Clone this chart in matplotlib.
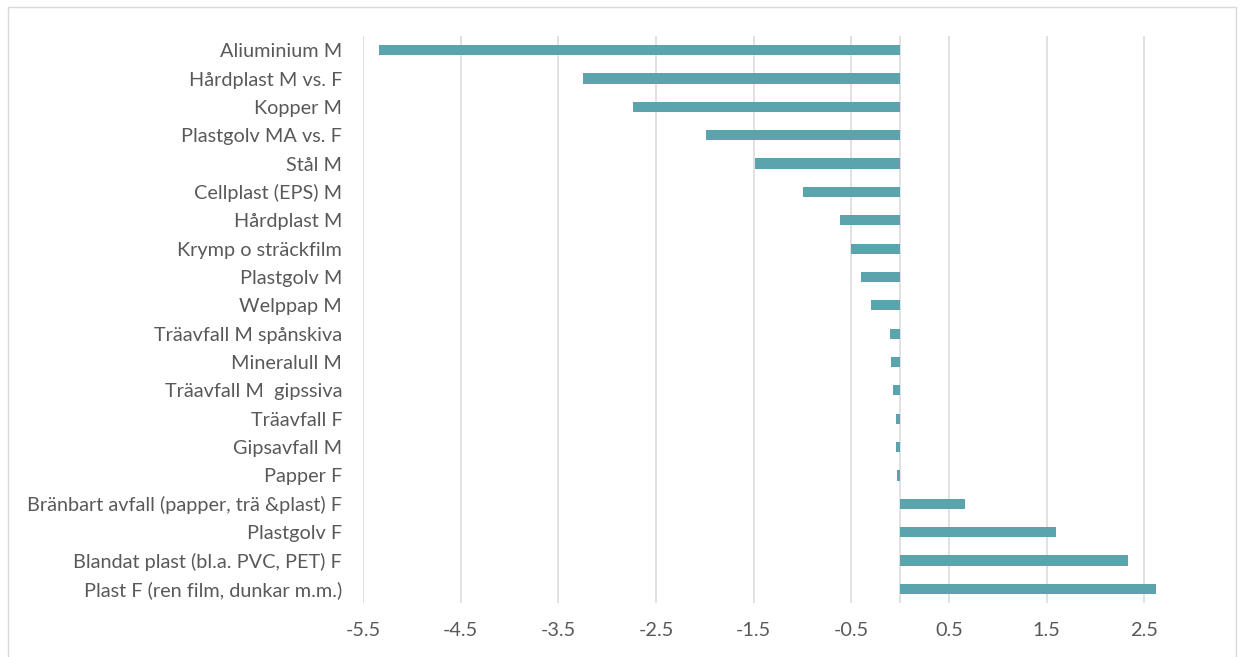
import matplotlib
matplotlib.use("Agg")
import matplotlib.pyplot as plt
from matplotlib.patches import Rectangle

categories = [
    "Aliuminium M",
    "Hårdplast M vs. F",
    "Kopper M",
    "Plastgolv MA vs. F",
    "Stål M",
    "Cellplast (EPS) M",
    "Hårdplast M",
    "Krymp o sträckfilm",
    "Plastgolv M",
    "Welppap M",
    "Träavfall M spånskiva",
    "Mineralull M",
    "Träavfall M  gipssiva",
    "Träavfall F",
    "Gipsavfall M",
    "Papper F",
    "Bränbart avfall (papper, trä &plast) F",
    "Plastgolv F",
    "Blandat plast (bl.a. PVC, PET) F",
    "Plast F (ren film, dunkar m.m.)",
]
values = [
    -5.34, -3.245, -2.74, -1.99, -1.49, -0.99, -0.62, -0.50, -0.40, -0.30,
    -0.105, -0.095, -0.07, -0.045, -0.045, -0.035, 0.67, 1.60, 2.33, 2.62,
]
xticks = [-5.5, -4.5, -3.5, -2.5, -1.5, -0.5, 0.5, 1.5, 2.5]
xtick_labels = ["-5.5", "-4.5", "-3.5", "-2.5", "-1.5", "-0.5", "0.5", "1.5", "2.5"]

BAR = "#5ba4ad"
GRID = "#d9d9d9"
TEXT = "#595959"
FONT = ["Lato", "DejaVu Sans"]

W, H = 1243, 657
fig = plt.figure(figsize=(W / 100, H / 100), dpi=100)
fig.patch.set_facecolor("white")

# outer chart frame
fig.patches.append(Rectangle((8 / W, -0.02), (1236 - 8) / W, (H - 7) / H + 0.02,
                             transform=fig.transFigure, fill=False,
                             edgecolor=GRID, linewidth=1.0))

left, right, top, bottom = 363, 1193, 36, 603
ax = fig.add_axes([left / W, (H - bottom) / H, (right - left) / W, (bottom - top) / H])

ypos = list(range(len(categories)))
ax.barh(ypos, values, height=0.36, color=BAR, zorder=3)

ax.set_xlim(-5.5, 3.0)
ax.set_ylim(len(categories) - 0.5, -0.5)

ax.set_xticks(xticks)
ax.set_xticklabels(xtick_labels, family=FONT, fontsize=14.3, color=TEXT)
ax.set_yticks(ypos)
ax.set_yticklabels(categories, family=FONT, fontsize=14.3, color=TEXT)
ax.tick_params(axis="x", length=0, pad=14)
ax.tick_params(axis="y", length=0, pad=15)

ax.grid(axis="x", color=GRID, linewidth=1.1, zorder=0)
ax.axvline(0, color=GRID, linewidth=1.1, zorder=1)
for s in ax.spines.values():
    s.set_visible(False)

fig.savefig("out.png", dpi=100)
